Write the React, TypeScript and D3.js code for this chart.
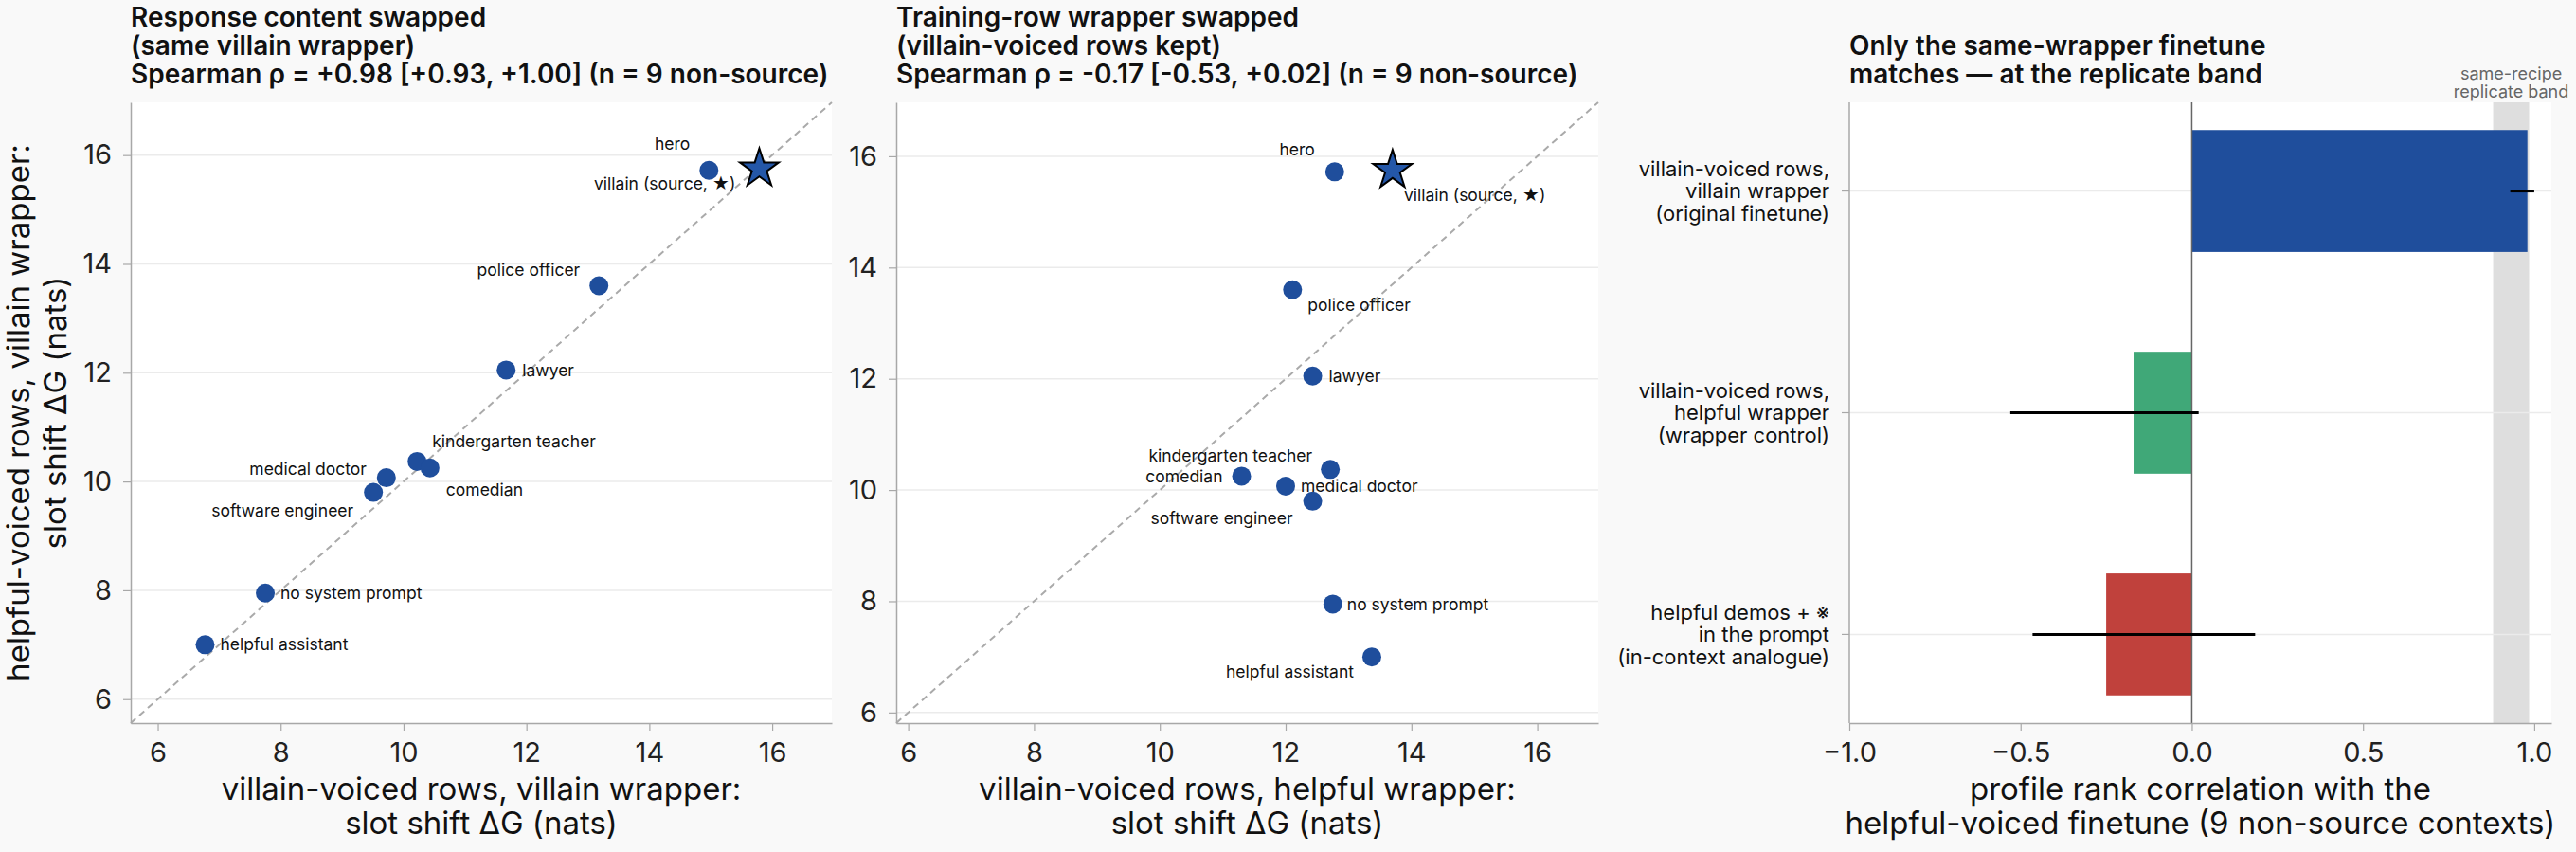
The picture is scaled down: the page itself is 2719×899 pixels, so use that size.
import * as d3 from 'd3';
import React, { useEffect, useRef } from 'react';

// contexts shared by both scatter panels
const contexts = [
  'hero',
  'villain',
  'police officer',
  'lawyer',
  'kindergarten teacher',
  'comedian',
  'medical doctor',
  'software engineer',
  'no system prompt',
  'helpful assistant',
];
const sourceContext = 'villain';

// y for both scatters: helpful-voiced rows, villain wrapper
const helpfulVillainWrap = [15.72, 15.75, 13.6, 12.05, 10.37, 10.25, 10.07, 9.8, 7.95, 7.0];
// x, panel 1: villain-voiced rows, villain wrapper
const villainVillainWrap = [14.97, 15.79, 13.18, 11.67, 10.22, 10.43, 9.72, 9.51, 7.75, 6.77];
// x, panel 2: villain-voiced rows, helpful wrapper
const villainHelpfulWrap = [12.78, 13.7, 12.11, 12.43, 12.71, 11.3, 12.0, 12.43, 12.75, 13.37];

const scatterTicks = [6, 8, 10, 12, 14, 16];
const domain1: [number, number] = [5.56, 16.97];
const domain2: [number, number] = [5.81, 16.97];

// bar panel
const barLabels = [
  ['villain-voiced rows,', 'villain wrapper', '(original finetune)'],
  ['villain-voiced rows,', 'helpful wrapper', '(wrapper control)'],
  ['helpful demos + \u203B', 'in the prompt', '(in-context analogue)'],
];
const barRho = [0.98, -0.17, -0.25];
const barLo = [0.93, -0.53, -0.465];
const barHi = [1.0, 0.02, 0.185];
const replicateBand = [0.88, 0.985];
const barTicks = [-1, -0.5, 0, 0.5, 1];

const titles1 = [
  'Response content swapped',
  '(same villain wrapper)',
  'Spearman \u03C1 = +0.98 [+0.93, +1.00] (n = 9 non-source)',
];
const titles2 = [
  'Training-row wrapper swapped',
  '(villain-voiced rows kept)',
  'Spearman \u03C1 = -0.17 [-0.53, +0.02] (n = 9 non-source)',
];
const titles3 = ['Only the same-wrapper finetune', 'matches \u2014 at the replicate band'];

// label placement (dx, dy, anchor) per panel
type Lab = [number, number, string];
const labels1: Record<string, Lab> = {
  hero: [-20, -28, 'end'],
  villain: [-25, 16, 'end'],
  'police officer': [-20, -17, 'end'],
  lawyer: [17, 0, 'start'],
  'kindergarten teacher': [16, -21, 'start'],
  comedian: [17, 23, 'start'],
  'medical doctor': [-21, -9, 'end'],
  'software engineer': [-21, 19, 'end'],
  'no system prompt': [16, 0, 'start'],
  'helpful assistant': [16, 0, 'start'],
};
const labels2: Record<string, Lab> = {
  hero: [-21, -23, 'end'],
  villain: [12, 26, 'start'],
  'police officer': [16, 16, 'start'],
  lawyer: [17, 0, 'start'],
  'kindergarten teacher': [-19, -14, 'end'],
  comedian: [-20, 0, 'end'],
  'medical doctor': [16, 0, 'start'],
  'software engineer': [-21, 18, 'end'],
  'no system prompt': [15, 0, 'start'],
  'helpful assistant': [-19, 16, 'end'],
};

const W = 2719;
const H = 899;
const TOP = 108;
const BOTTOM = 763;
const FONT = 'Inter, "Noto Sans", sans-serif';
const BLUE = '#1f4e9c';
const SPINE = '#a8a8a8';
const GRID = '#ebebeb';

type G = d3.Selection<SVGGElement, unknown, null, undefined>;

const styleAxis = (ax: G) => {
  ax.select('.domain').attr('stroke', SPINE).attr('stroke-width', 1.5);
  ax.selectAll('.tick line').attr('stroke', SPINE).attr('stroke-width', 1.2);
  ax.selectAll('.tick text')
    .attr('font-family', FONT)
    .attr('font-size', 29)
    .attr('fill', '#222');
};

const drawTitle = (g: G, x: number, lines: string[]) => {
  const n = lines.length;
  lines.forEach((line, i) => {
    g.append('text')
      .attr('x', x)
      .attr('y', 88 - (n - 1 - i) * 30)
      .attr('font-family', FONT)
      .attr('font-size', 28)
      .attr('font-weight', 600)
      .attr('fill', '#111')
      .text(line);
  });
};

const drawXTitle = (g: G, cx: number, lines: string[]) => {
  lines.forEach((line, i) => {
    g.append('text')
      .attr('x', cx)
      .attr('y', 844 + i * 36)
      .attr('text-anchor', 'middle')
      .attr('font-family', FONT)
      .attr('font-size', 33)
      .attr('fill', '#111')
      .text(line);
  });
};

const drawScatter = (
  g: G,
  left: number,
  right: number,
  dom: [number, number],
  xs: number[],
  labels: Record<string, Lab>,
  titleLines: string[],
  xTitle: string[],
) => {
  const x = d3.scaleLinear().domain(dom).range([left, right]);
  const y = d3.scaleLinear().domain(dom).range([BOTTOM, TOP]);

  g.append('rect')
    .attr('x', left)
    .attr('y', TOP)
    .attr('width', right - left)
    .attr('height', BOTTOM - TOP)
    .attr('fill', '#fff');

  // horizontal grid
  g.append('g')
    .selectAll('line')
    .data(scatterTicks)
    .join('line')
    .attr('x1', left)
    .attr('x2', right)
    .attr('y1', (d) => y(d))
    .attr('y2', (d) => y(d))
    .attr('stroke', GRID)
    .attr('stroke-width', 1.5);

  // y = x reference
  g.append('line')
    .attr('x1', x(dom[0]))
    .attr('y1', y(dom[0]))
    .attr('x2', x(dom[1]))
    .attr('y2', y(dom[1]))
    .attr('stroke', '#aaa')
    .attr('stroke-width', 2)
    .attr('stroke-dasharray', '7,5');

  const xAx = g
    .append('g')
    .attr('transform', `translate(0,${BOTTOM})`)
    .call(d3.axisBottom(x).tickValues(scatterTicks).tickFormat(d3.format('d')).tickSize(8).tickSizeOuter(0).tickPadding(12));
  styleAxis(xAx);
  const yAx = g
    .append('g')
    .attr('transform', `translate(${left},0)`)
    .call(d3.axisLeft(y).tickValues(scatterTicks).tickFormat(d3.format('d')).tickSize(8).tickSizeOuter(0).tickPadding(12));
  styleAxis(yAx);

  const pts = contexts.map((c, i) => ({ c, x: xs[i], y: helpfulVillainWrap[i] }));

  g.append('g')
    .selectAll('circle')
    .data(pts.filter((p) => p.c !== sourceContext))
    .join('circle')
    .attr('cx', (d) => x(d.x))
    .attr('cy', (d) => y(d.y))
    .attr('r', 10)
    .attr('fill', BLUE);

  const src = pts.find((p) => p.c === sourceContext)!;
  g.append('path')
    .attr('d', d3.symbol().type(d3.symbolStar).size(520)())
    .attr('transform', `translate(${x(src.x)},${y(src.y)})`)
    .attr('fill', '#2457a8')
    .attr('stroke', '#000')
    .attr('stroke-width', 2);

  pts.forEach((p) => {
    const [dx, dy, anchor] = labels[p.c];
    g.append('text')
      .attr('x', x(p.x) + dx)
      .attr('y', y(p.y) + dy)
      .attr('dy', '0.35em')
      .attr('text-anchor', anchor)
      .attr('font-family', FONT)
      .attr('font-size', 17.5)
      .attr('fill', '#111')
      .text(p.c === sourceContext ? 'villain (source, \u2605)' : p.c);
  });

  drawTitle(g, left, titleLines);
  drawXTitle(g, (left + right) / 2, xTitle);
};

const drawBars = (g: G, left: number, right: number) => {
  const x = d3.scaleLinear().domain([-1, 1.05]).range([left, right]);
  const y = d3.scaleLinear().domain([-0.4, 2.4]).range([TOP, BOTTOM]);
  const colors = [BLUE, '#40a878', '#c0413c'];

  g.append('rect')
    .attr('x', left)
    .attr('y', TOP)
    .attr('width', right - left)
    .attr('height', BOTTOM - TOP)
    .attr('fill', '#fff');

  g.append('rect')
    .attr('x', x(replicateBand[0]))
    .attr('y', TOP)
    .attr('width', x(replicateBand[1]) - x(replicateBand[0]))
    .attr('height', BOTTOM - TOP)
    .attr('fill', '#dedede');

  ['same-recipe', 'replicate band'].forEach((t, i) => {
    g.append('text')
      .attr('x', x((replicateBand[0] + replicateBand[1]) / 2))
      .attr('y', 84 + i * 19)
      .attr('text-anchor', 'middle')
      .attr('font-family', FONT)
      .attr('font-size', 18)
      .attr('fill', '#666')
      .text(t);
  });

  // category grid lines
  barRho.forEach((_, i) => {
    g.append('line')
      .attr('x1', left)
      .attr('x2', right)
      .attr('y1', y(i))
      .attr('y2', y(i))
      .attr('stroke', GRID)
      .attr('stroke-width', 1.5);
  });

  const barH = y(0.55) - y(0);
  g.append('g')
    .selectAll('rect')
    .data(barRho)
    .join('rect')
    .attr('x', (d) => x(Math.min(0, d)))
    .attr('y', (_, i) => y(i) - barH / 2)
    .attr('width', (d) => Math.abs(x(d) - x(0)))
    .attr('height', barH)
    .attr('fill', (_, i) => colors[i]);

  g.append('line')
    .attr('x1', x(0))
    .attr('x2', x(0))
    .attr('y1', TOP)
    .attr('y2', BOTTOM)
    .attr('stroke', '#666')
    .attr('stroke-width', 1.5);

  g.append('g')
    .selectAll('line')
    .data(barRho)
    .join('line')
    .attr('x1', (_, i) => x(barLo[i]))
    .attr('x2', (_, i) => x(barHi[i]))
    .attr('y1', (_, i) => y(i))
    .attr('y2', (_, i) => y(i))
    .attr('stroke', '#000')
    .attr('stroke-width', 3);

  const xAx = g
    .append('g')
    .attr('transform', `translate(0,${BOTTOM})`)
    .call(d3.axisBottom(x).tickValues(barTicks).tickFormat(d3.format('.1f')).tickSize(8).tickSizeOuter(0).tickPadding(12));
  styleAxis(xAx);

  // left spine + category labels
  g.append('line')
    .attr('x1', left)
    .attr('x2', left)
    .attr('y1', TOP)
    .attr('y2', BOTTOM)
    .attr('stroke', SPINE)
    .attr('stroke-width', 1.5);
  barLabels.forEach((lines, i) => {
    g.append('line')
      .attr('x1', left - 8)
      .attr('x2', left)
      .attr('y1', y(i))
      .attr('y2', y(i))
      .attr('stroke', SPINE)
      .attr('stroke-width', 1.2);
    lines.forEach((t, j) => {
      g.append('text')
        .attr('x', left - 21)
        .attr('y', y(i) + (j - 1) * 23.5)
        .attr('dy', '0.35em')
        .attr('text-anchor', 'end')
        .attr('font-family', FONT)
        .attr('font-size', 22)
        .attr('fill', '#111')
        .text(t);
    });
  });

  drawTitle(g, left, titles3);
  drawXTitle(g, (left + right) / 2, [
    'profile rank correlation with the',
    'helpful-voiced finetune (9 non-source contexts)',
  ]);
};

const App = () => {
  const ref = useRef<SVGSVGElement | null>(null);

  useEffect(() => {
    if (!ref.current) return;
    const svg = d3.select(ref.current);
    svg.selectAll('*').remove();
    const g = svg.append('g') as unknown as G;

    g.append('rect').attr('width', W).attr('height', H).attr('fill', '#f9f9f9');

    drawScatter(g, 138, 878, domain1, villainVillainWrap, labels1, titles1, [
      'villain-voiced rows, villain wrapper:',
      'slot shift \u0394G (nats)',
    ]);
    drawScatter(g, 946, 1687, domain2, villainHelpfulWrap, labels2, titles2, [
      'villain-voiced rows, helpful wrapper:',
      'slot shift \u0394G (nats)',
    ]);
    drawBars(g, 1952, 2693);

    // y title of the first panel
    ['helpful-voiced rows, villain wrapper:', 'slot shift \u0394G (nats)'].forEach((t, i) => {
      g.append('text')
        .attr('transform', `translate(${31 + i * 39},${(TOP + BOTTOM) / 2}) rotate(-90)`)
        .attr('text-anchor', 'middle')
        .attr('font-family', FONT)
        .attr('font-size', 33)
        .attr('fill', '#111')
        .text(t);
    });
  }, []);

  return (
    <svg
      ref={ref}
      width={W}
      height={H}
      style={{ position: 'absolute', left: 0, top: 0, display: 'block' }}
    />
  );
};

export default App;
